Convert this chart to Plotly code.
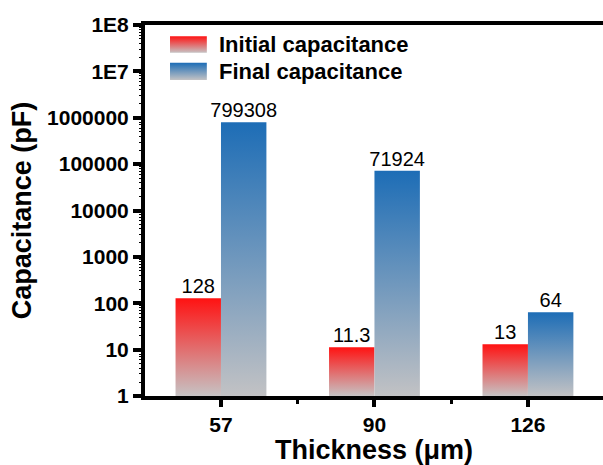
import plotly.graph_objects as go

# Measured capacitance before/after for each film thickness
thickness = ["57", "90", "126"]
initial_cap = [128, 11.3, 13]
final_cap = [799308, 71924, 64]
initial_labels = ["128", "11.3", "13"]
final_labels = ["799308", "71924", "64"]

y_tickvals = [1, 10, 100, 1000, 10000, 100000, 1000000, 1e7, 1e8]
y_ticktext = ["1", "10", "100", "1000", "10000", "100000", "1000000", "1E7", "1E8"]

FONT = "Arial, Liberation Sans, sans-serif"
BAR_W = 0.296          # width of one bar in category units
BASE = 1               # bars rise from the bottom of the log axis

series = [
    dict(name="Initial capacitance", values=initial_cap, labels=initial_labels,
         offset=-BAR_W / 2, top="#ff1212", bottom="#c6c3c4"),
    dict(name="Final capacitance", values=final_cap, labels=final_labels,
         offset=BAR_W / 2, top="#1d6db6", bottom="#c2c2c4"),
]


def gradient(s):
    return dict(type="vertical", colorscale=[[0, s["bottom"]], [1, s["top"]]])


fig = go.Figure()

for s in series:
    for i, v in enumerate(s["values"]):
        xc = i + s["offset"]
        x0, x1 = xc - BAR_W / 2, xc + BAR_W / 2
        fig.add_trace(go.Scatter(
            x=[x0, x1, x1, x0, x0],
            y=[BASE, BASE, v, v, BASE],
            mode="lines",
            line=dict(width=0),
            fill="toself",
            fillgradient=gradient(s),
            name=s["name"],
            showlegend=False,
            hoverinfo="skip",
        ))
    # value labels above each bar
    fig.add_trace(go.Scatter(
        x=[i + s["offset"] for i in range(len(s["values"]))],
        y=s["values"],
        mode="text",
        text=s["labels"],
        textposition="top center",
        textfont=dict(family=FONT, size=20, color="black"),
        showlegend=False,
        hoverinfo="skip",
    ))

# Legend: gradient swatches on an overlay axis spanning the plot area (0..1),
# with the series names as annotations beside them
legend_rows = [(0.970, 0.925), (0.898, 0.852)]
for s, (ytop, ybot) in zip(series, legend_rows):
    fig.add_trace(go.Scatter(
        x=[0.0546, 0.135, 0.135, 0.0546, 0.0546],
        y=[ybot, ybot, ytop, ytop, ybot],
        xaxis="x2", yaxis="y2",
        mode="lines", line=dict(width=0),
        fill="toself", fillgradient=gradient(s),
        showlegend=False, hoverinfo="skip",
    ))
    fig.add_annotation(
        x=0.157, y=(ytop + ybot) / 2, xref="paper", yref="paper",
        xanchor="left", yanchor="middle", showarrow=False,
        text=s["name"],
        font=dict(family=FONT, size=22, color="black", weight="bold"),
    )

minor_y = [m * 10 ** d for d in range(8) for m in range(2, 10)]

fig.update_layout(
    width=603, height=465,
    margin=dict(l=145, r=0, t=25, b=69),
    plot_bgcolor="white", paper_bgcolor="white",
    font=dict(family=FONT, color="black"),
    showlegend=False,
    xaxis=dict(
        range=[-0.495, 2.489],
        tickmode="array", tickvals=[0, 1, 2], ticktext=thickness,
        showline=True, linewidth=4, linecolor="black", mirror=True,
        ticks="outside", ticklen=7, tickwidth=3.5, tickcolor="black",
        tickfont=dict(family=FONT, size=21, weight="bold"),
        showgrid=False, zeroline=False,
        minor=dict(tickmode="array", tickvals=[0.5, 1.5], ticks="outside",
                   ticklen=4, tickwidth=3, tickcolor="black"),
        title=dict(text="Thickness (μm)",
                   font=dict(family=FONT, size=27, weight="bold"), standoff=3),
    ),
    yaxis=dict(
        type="log", range=[0, 8],
        tickmode="array", tickvals=y_tickvals, ticktext=y_ticktext,
        showline=True, linewidth=4, linecolor="black",
        ticks="outside", ticklen=8, tickwidth=3.5, tickcolor="black",
        tickfont=dict(family=FONT, size=21, weight="bold"),
        showgrid=False, zeroline=False,
        minor=dict(tickmode="array", tickvals=minor_y, ticks="outside",
                   ticklen=2, tickwidth=1, tickcolor="black"),
        title=dict(text="Capacitance (pF)",
                   font=dict(family=FONT, size=27, weight="bold"), standoff=9),
    ),
    xaxis2=dict(range=[0, 1], overlaying="x", anchor="y2", visible=False,
                fixedrange=True),
    yaxis2=dict(range=[0, 1], overlaying="y", anchor="x2", visible=False,
                fixedrange=True),
)

fig.write_html("out.html")
